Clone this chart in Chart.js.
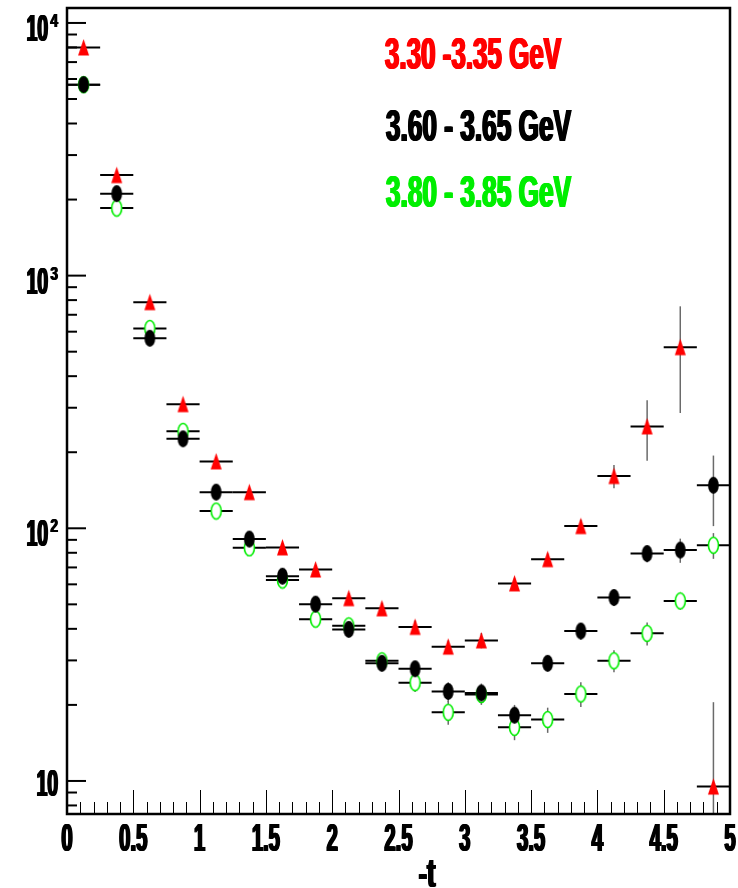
<!DOCTYPE html>
<html>
<head>
<meta charset="utf-8">
<script src="https://cdn.jsdelivr.net/npm/chart.js@4/dist/chart.umd.min.js"></script>
<style>
  html, body { margin: 0; padding: 0; background: #fff; }
  #chart { display: block; }
</style>
</head>
<body>
<canvas id="chart" width="738" height="888"></canvas>
<script>
// bin centres in -t (bins are 0.25 wide)
const tValues = [0.125, 0.375, 0.625, 0.875, 1.125, 1.375, 1.625, 1.875, 2.125, 2.375,
                 2.625, 2.875, 3.125, 3.375, 3.625, 3.875, 4.125, 4.375, 4.625, 4.875];
const binHalfWidth = 0.125;

// 3.30 - 3.35 GeV
const redCounts = [8000, 2500, 785, 310, 184, 139, 84, 68.7, 52.9, 48.2,
                   40.7, 34.0, 36.0, 60.5, 75.5, 102, 161, 253, 521, 9.5];
const redErrors = [80, 40, 15, 8, 6, 5, 3, 3, 2.5, 2.5,
                   2.5, 2, 2.5, 3, 4, 6, 17, 68, 235, 11];

// 3.60 - 3.65 GeV
const blackCounts = [5700, 2110, 565, 226, 139, 90.6, 64.6, 50.1, 39.8, 29.2,
                     27.8, 22.6, 22.3, 18.2, 29.2, 39.2, 53.2, 79.4, 82, 148];
const blackErrors = [60, 35, 12, 7, 5, 4, 3, 2.5, 2, 2,
                     2, 2, 2, 1.8, 2, 3, 4, 6, 9, 46];

// 3.80 - 3.85 GeV
const greenCounts = [5700, 1850, 618, 242, 117, 83.7, 62.4, 43.7, 41.1, 29.9,
                     24.5, 18.7, 22.0, 16.3, 17.5, 22.1, 29.9, 38.4, 51.6, 85.7];
const greenErrors = [60, 35, 12, 7, 5, 4, 3, 2.5, 2, 2,
                     2, 2, 2, 1.8, 2, 2.5, 3, 4, 4, 10];

const xTickValues = [0, 0.5, 1, 1.5, 2, 2.5, 3, 3.5, 4, 4.5, 5];
const xTickLabels = ["0", "0.5", "1", "1.5", "2", "2.5", "3", "3.5", "4", "4.5", "5"];
const yTickValues = [10, 100, 1000, 10000];
const yTickExponents = ["", "2", "3", "4"];
const seriesLabels = ["3.30 -3.35 GeV", "3.60 - 3.65 GeV", "3.80 - 3.85 GeV"];

const FONT = "'Liberation Sans', Arial, sans-serif";

function points(counts) {
  return tValues.map((t, i) => ({ x: t, y: counts[i] }));
}

// markers are squeezed ellipses / triangles like the original picture
function makeMarker(kind) {
  const c = document.createElement("canvas");
  c.width = 13;
  c.height = 19;
  const g = c.getContext("2d");
  if (kind === "triangle") {
    g.fillStyle = "#ff0000";
    g.beginPath();
    g.moveTo(1, 17.5);
    g.lineTo(6.5, 1);
    g.lineTo(12, 17.5);
    g.closePath();
    g.fill();
  } else if (kind === "dot") {
    g.fillStyle = "#000";
    g.beginPath();
    g.ellipse(6.5, 9.5, 5.4, 8.4, 0, 0, Math.PI * 2);
    g.fill();
  } else {
    g.fillStyle = "#fff";
    g.strokeStyle = "#00ee00";
    g.lineWidth = 1.6;
    g.beginPath();
    g.ellipse(6.5, 9.5, 5, 8, 0, 0, Math.PI * 2);
    g.fill();
    g.stroke();
  }
  return c;
}

// narrow, heavy text: squeeze horizontally and smear the stems a bit
function heavyText(ctx, text, sx, bold) {
  const step = 0.6 / sx;
  for (let k = 0; k <= bold; k++) {
    ctx.fillText(text, k * step - bold * step / 2, 0);
  }
}

function squeezed(ctx, text, x, y, size, sx, align, bold) {
  ctx.save();
  ctx.font = "bold " + size + "px " + FONT;
  ctx.translate(x, y);
  ctx.scale(sx, 1);
  ctx.textAlign = align;
  ctx.textBaseline = "alphabetic";
  heavyText(ctx, text, sx, bold);
  ctx.restore();
}

function fitted(ctx, text, left, baseline, size, width, color) {
  ctx.save();
  ctx.font = "bold " + size + "px " + FONT;
  const bold = 3;
  const sx = (width - bold * 0.6) / ctx.measureText(text).width;
  ctx.fillStyle = color;
  ctx.translate(left + bold * 0.3, baseline);
  ctx.scale(sx, 1);
  ctx.textAlign = "left";
  ctx.textBaseline = "alphabetic";
  heavyText(ctx, text, sx, bold);
  ctx.restore();
}

const errorBars = {
  id: "errorBars",
  beforeDatasetsDraw(chart) {
    const { ctx, chartArea: a, scales: { x, y } } = chart;
    ctx.save();
    ctx.beginPath();
    ctx.rect(a.left, a.top, a.right - a.left, a.bottom - a.top);
    ctx.clip();
    chart.data.datasets.slice().reverse().forEach(ds => {
      ds.data.forEach((p, i) => {
        const cx = x.getPixelForValue(p.x);
        const cy = y.getPixelForValue(p.y);
        const err = ds.errors[i];
        const yTop = y.getPixelForValue(p.y + err);
        const yBot = p.y - err > 0 ? y.getPixelForValue(p.y - err) : a.bottom;
        ctx.strokeStyle = "#6a6a6a";
        ctx.lineWidth = 1.5;
        ctx.beginPath();
        ctx.moveTo(cx, yTop);
        ctx.lineTo(cx, yBot);
        ctx.stroke();
        ctx.strokeStyle = "#000";
        ctx.lineWidth = 2;
        ctx.beginPath();
        ctx.moveTo(x.getPixelForValue(p.x - binHalfWidth), cy);
        ctx.lineTo(x.getPixelForValue(p.x + binHalfWidth), cy);
        ctx.stroke();
      });
    });
    ctx.restore();
  }
};

const frameAndAxes = {
  id: "frameAndAxes",
  afterDraw(chart) {
    const { ctx, chartArea: a, scales: { x, y } } = chart;
    ctx.save();
    ctx.strokeStyle = "#000";

    // x ticks, inside the frame
    ctx.lineWidth = 1;
    for (let i = 0; i <= 50; i++) {
      const px = Math.round(x.getPixelForValue(i / 10)) + 0.5;
      const len = i % 5 === 0 ? 24 : 12;
      ctx.beginPath();
      ctx.moveTo(px, a.bottom);
      ctx.lineTo(px, a.bottom - len);
      ctx.stroke();
    }

    // y ticks, log decades with minor marks
    ctx.lineWidth = 2;
    for (let d = 0; d <= 4; d++) {
      for (let m = 1; m <= 9; m++) {
        const v = m * Math.pow(10, d);
        if (v < y.min || v > y.max) continue;
        const py = y.getPixelForValue(v);
        ctx.beginPath();
        ctx.moveTo(a.left, py);
        ctx.lineTo(a.left + (m === 1 ? 19 : 10), py);
        ctx.stroke();
      }
    }

    // frame
    ctx.lineWidth = 2.5;
    ctx.strokeRect(a.left, a.top, a.right - a.left, a.bottom - a.top);

    // tick labels
    ctx.fillStyle = "#000";
    xTickValues.forEach((v, i) => {
      squeezed(ctx, xTickLabels[i], x.getPixelForValue(v), 851, 39, 0.52, "center", 3);
    });
    yTickValues.forEach((v, i) => {
      const py = y.getPixelForValue(v);
      const exp = yTickExponents[i];
      if (exp) {
        squeezed(ctx, "10", 48, py + 18, 37, 0.52, "right", 3);
        squeezed(ctx, exp, 58, py + 4, 19, 0.72, "right", 2);
      } else {
        squeezed(ctx, "10", 58, py + 15, 37, 0.52, "right", 3);
      }
    });
    squeezed(ctx, "-t", 427, 887, 41, 0.62, "center", 3);

    // series labels
    fitted(ctx, seriesLabels[0], 384, 69, 44, 178, "#ff0000");
    fitted(ctx, seriesLabels[1], 385, 141, 44, 187, "#000000");
    fitted(ctx, seriesLabels[2], 385, 207, 44, 187, "#00ee00");
    ctx.restore();
  }
};

new Chart(document.getElementById("chart"), {
  type: "scatter",
  data: {
    datasets: [
      { label: seriesLabels[0], data: points(redCounts), errors: redErrors,
        pointStyle: makeMarker("triangle"), order: 0 },
      { label: seriesLabels[1], data: points(blackCounts), errors: blackErrors,
        pointStyle: makeMarker("dot"), order: 1 },
      { label: seriesLabels[2], data: points(greenCounts), errors: greenErrors,
        pointStyle: makeMarker("ring"), order: 2 }
    ]
  },
  options: {
    responsive: false,
    animation: false,
    devicePixelRatio: 1,
    events: [],
    layout: { padding: { left: 67, right: 8, top: 8, bottom: 74 } },
    scales: {
      x: { type: "linear", min: 0, max: 5, display: false },
      y: { type: "logarithmic", min: 7.4, max: 11460, display: false }
    },
    plugins: {
      legend: { display: false },
      tooltip: { enabled: false }
    }
  },
  plugins: [errorBars, frameAndAxes]
});
</script>
</body>
</html>
